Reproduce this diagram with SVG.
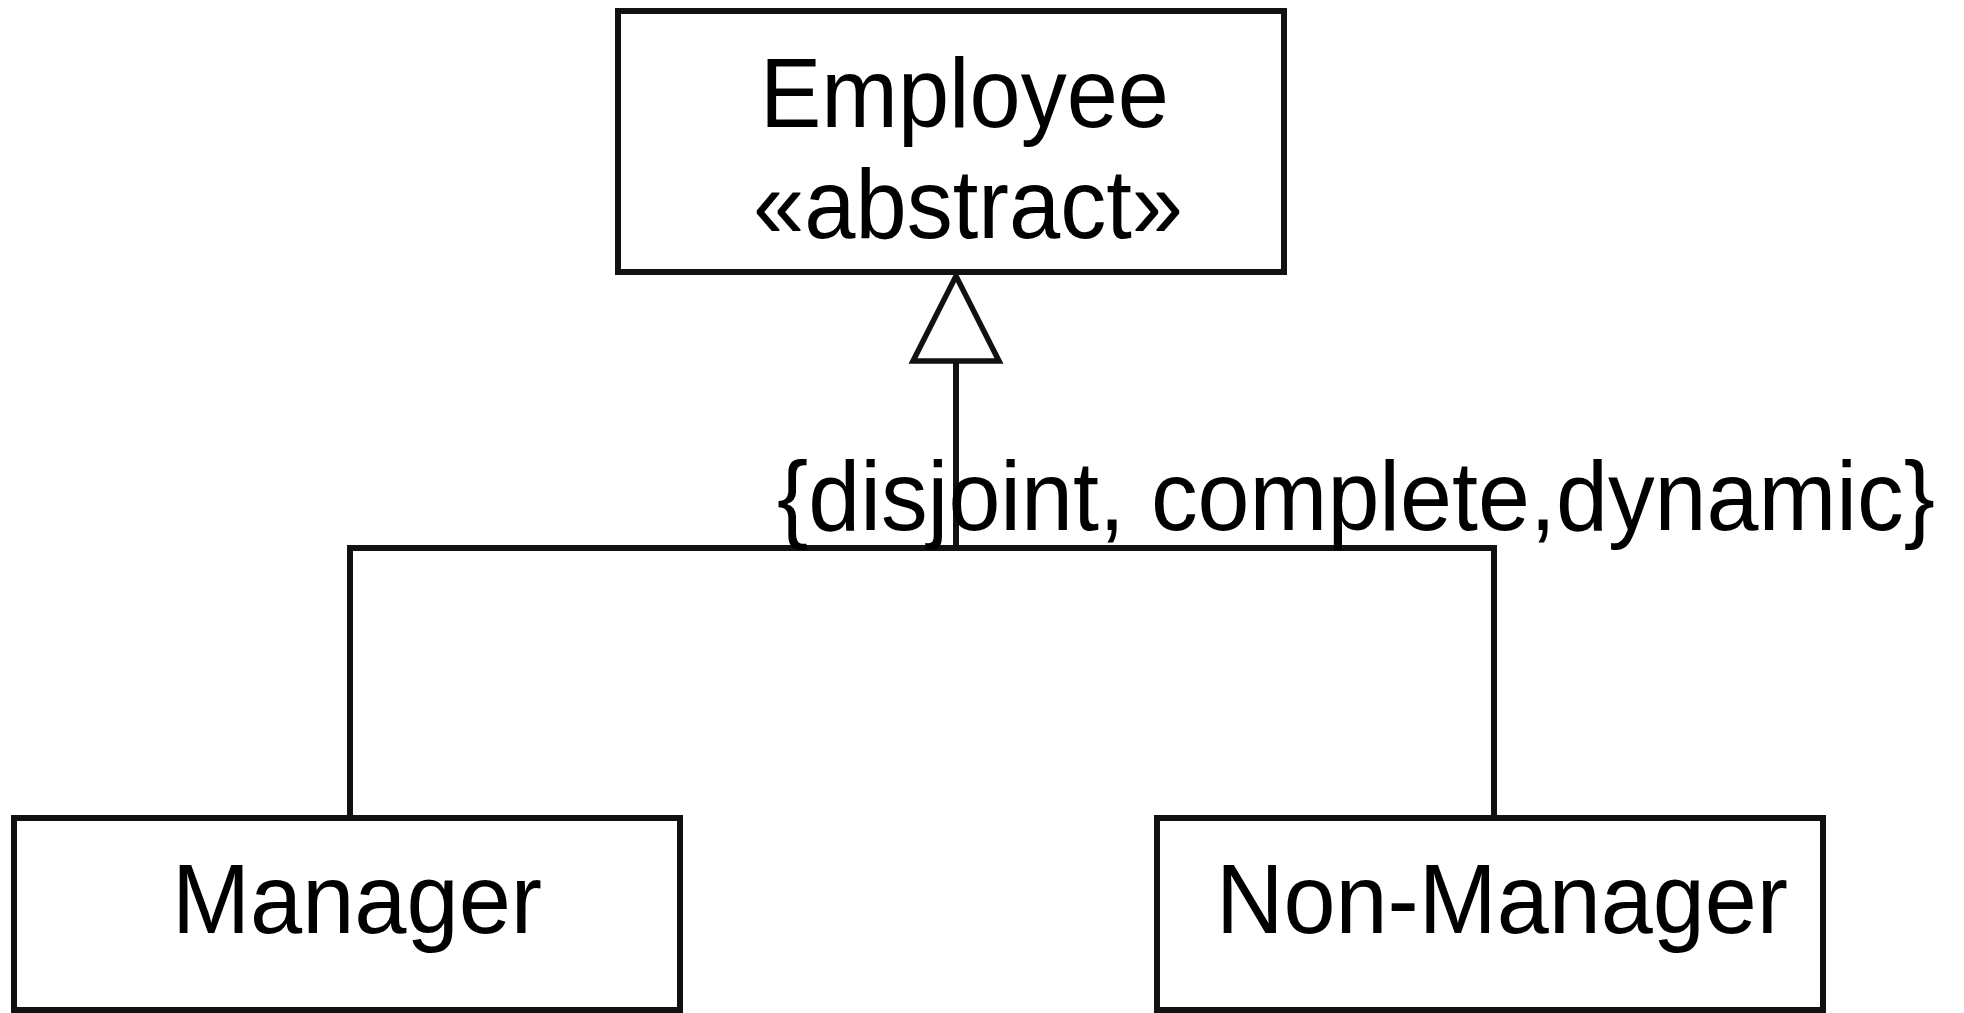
<svg xmlns="http://www.w3.org/2000/svg" width="1964" height="1013" viewBox="0 0 1964 1013">
  <style>
    .box { fill: #ffffff; stroke: #111111; stroke-width: 6; }
    .line { fill: none; stroke: #111111; stroke-width: 6; }
    .lbl { font-family: "Liberation Sans", Arial, sans-serif; font-size: 98px; fill: #000000; }
  </style>
  <defs>
    <marker id="gen" markerUnits="userSpaceOnUse" viewBox="-10 -55 110 110" markerWidth="110" markerHeight="110" refX="85" refY="0" orient="auto" overflow="visible">
      <path d="M 0 -43 L 85 0 L 0 43 Z" fill="#ffffff" stroke="#111111" stroke-width="5.5" stroke-linejoin="miter"/>
    </marker>
  </defs>
  <rect width="1964" height="1013" fill="#ffffff"/>

  <g id="connectors">
    <path class="line" d="M 350 818 V 548 H 1494 V 818"/>
    <path class="line" d="M 956 548 V 276" marker-end="url(#gen)"/>
    <text class="lbl" x="777" y="530" textLength="1158" lengthAdjust="spacingAndGlyphs">{disjoint, complete,dynamic}</text>
  </g>

  <g id="employee">
    <rect class="box" x="618" y="11" width="666" height="261"/>
    <text class="lbl" x="760" y="127" textLength="409" lengthAdjust="spacingAndGlyphs">Employee</text>
    <text class="lbl" x="753" y="238" textLength="430" lengthAdjust="spacingAndGlyphs">«abstract»</text>
  </g>

  <g id="manager">
    <rect class="box" x="14" y="818" width="666" height="192"/>
    <text class="lbl" x="172" y="933" textLength="370" lengthAdjust="spacingAndGlyphs">Manager</text>
  </g>

  <g id="non-manager">
    <rect class="box" x="1157" y="818" width="666" height="192"/>
    <text class="lbl" x="1216" y="933" textLength="572" lengthAdjust="spacingAndGlyphs">Non-Manager</text>
  </g>
</svg>
